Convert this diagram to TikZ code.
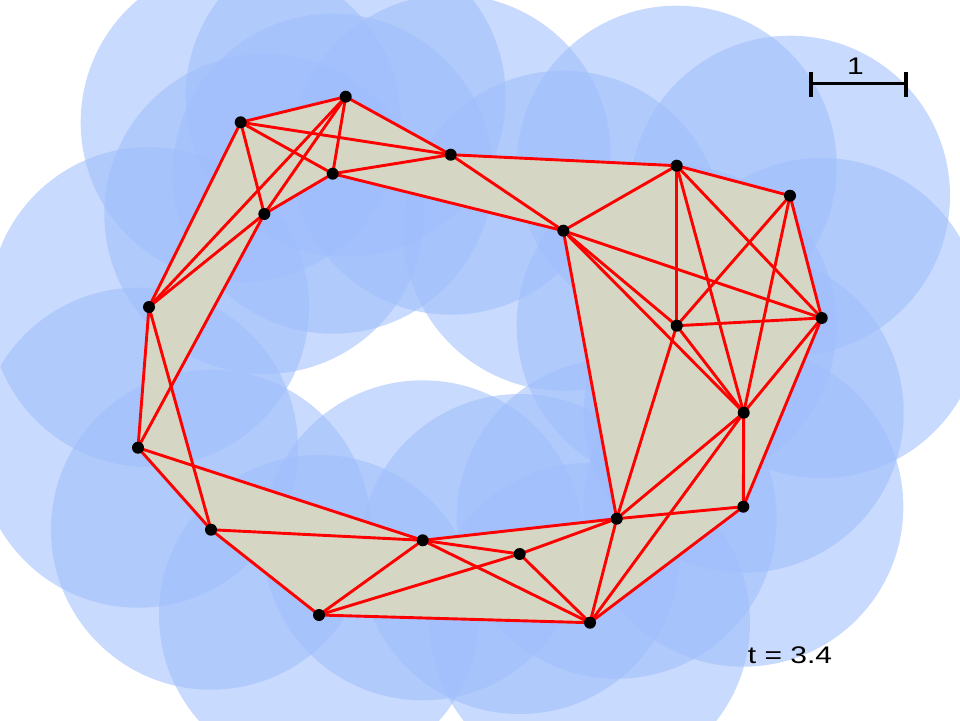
\documentclass[tikz,border=0pt]{standalone}
\usepackage{fontspec}
\setmainfont{Liberation Sans}
\definecolor{ballblue}{RGB}{160,190,252}
\definecolor{simplexfill}{RGB}{214,214,196}
\begin{document}
\begin{tikzpicture}[x=1pt,y=-1pt,
  ball/.style={fill=ballblue, fill opacity=0.57, draw=none},
  edge/.style={draw=red, line width=2.9pt},
  vertex/.style={circle, fill=black, draw=none, inner sep=0pt, minimum size=12pt},
  scalebar/.style={draw=black, line width=3.3pt},
  lbl/.style={font=\fontsize{24}{28}\selectfont, xscale=1.25, inner sep=0pt, anchor=base}]
\useasboundingbox (0,0) rectangle (960,720);
\fill[white] (0,0) rectangle (960,720);
% points
\coordinate (A) at (345.7,96.7);
\coordinate (B) at (240.7,122.3);
\coordinate (C) at (450.7,154.7);
\coordinate (D) at (332.7,173.7);
\coordinate (E) at (264.3,214);
\coordinate (F) at (149,307);
\coordinate (G) at (676.7,165.7);
\coordinate (H) at (790,195.7);
\coordinate (I) at (563.3,230.7);
\coordinate (J) at (676.7,325.7);
\coordinate (K) at (821.7,318);
\coordinate (L) at (743.7,412.7);
\coordinate (M) at (138,447.7);
\coordinate (N) at (743.3,506.7);
\coordinate (O) at (616.7,518.7);
\coordinate (P) at (211,529.7);
\coordinate (Q) at (319,615);
\coordinate (R) at (422.7,540.3);
\coordinate (S) at (519.7,554);
\coordinate (T) at (590,622.7);
% balls
\foreach \p in {A,B,C,D,E,F,G,H,I,J,K,L,M,N,O,P,Q,R,S,T}
  \fill[ball] (\p) circle[radius=160pt];
% filled simplices (union of triangles)
\coordinate (X1) at (intersection of M--R and F--P);
\coordinate (X2) at (intersection of M--E and F--P);
\fill[simplexfill, even odd rule]
  (B)--(A)--(C)--(G)--(H)--(K)--(N)--(T)--(Q)--(P)--(M)--(F)--cycle
  (E)--(D)--(I)--(O)--(R)--(X1)--(X2)--cycle;
% edges
\foreach \u/\v in {A/B,A/C,A/D,A/E,A/F,B/C,B/D,B/E,B/F,C/D,C/G,C/I,D/E,D/I,E/F,E/M,
  F/M,F/P,M/P,M/R,P/R,P/Q,Q/R,Q/S,Q/T,R/S,R/O,R/T,S/O,S/T,O/T,O/N,O/L,O/J,O/I,
  T/L,T/N,N/L,N/K,L/K,L/J,L/I,L/G,L/H,G/H,G/I,G/J,G/K,H/J,H/K,I/J,I/K,J/K}
  \draw[edge] (\u) -- (\v);
% vertices
\foreach \p in {A,B,C,D,E,F,G,H,I,J,K,L,M,N,O,P,Q,R,S,T}
  \node[vertex] (v\p) at (\p) {};
% scale bar
\coordinate (sbL) at (811,83.5);
\coordinate (sbR) at (906,83.5);
\coordinate (sbLt) at (811,71.5);
\coordinate (sbLb) at (811,96.5);
\coordinate (sbRt) at (906,71.5);
\coordinate (sbRb) at (906,96.5);
\draw[scalebar] (sbL) -- (sbR);
\draw[scalebar] (sbLt) -- (sbLb);
\draw[scalebar] (sbRt) -- (sbRb);
\node[lbl] (unit) at (855.5,74.3) {1};
\node[lbl] (tval) at (790,663.3) {t = 3.4};
\end{tikzpicture}
\end{document}
